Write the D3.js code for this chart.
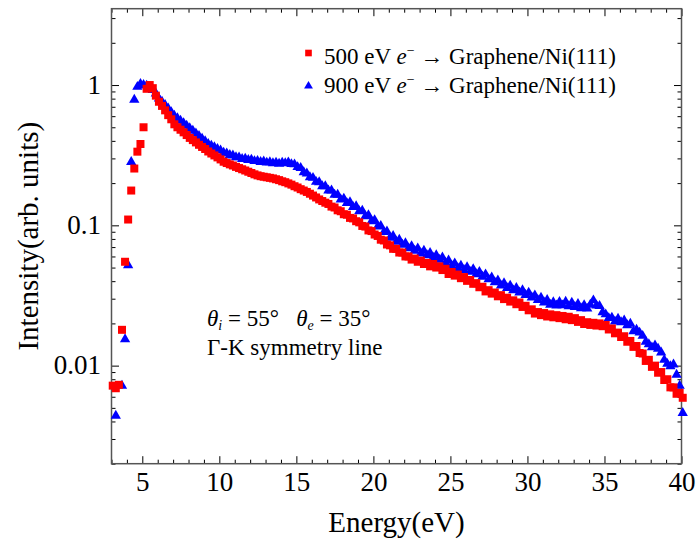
<!DOCTYPE html>
<html>
<head>
<meta charset="utf-8">
<script src="https://cdn.jsdelivr.net/npm/d3@7"></script>
<style>
  html, body { margin: 0; padding: 0; background: #fff; }
  svg { display: block; font-family: "Liberation Serif", "Times New Roman", serif; }
</style>
</head>
<body>
<svg id="chart" width="698" height="540"></svg>
<script>
// ---------------- data ----------------
const energy = [
  3.08,3.28,3.48,3.68,3.88, 4.08,4.28,4.48,4.68,4.88, 5.08,5.28,5.48,5.68,5.88,
  6.08,6.28,6.48,6.68,6.88, 7.08,7.28,7.48,7.68,7.88, 8.08,8.28,8.48,8.68,8.88,
  9.08,9.28,9.48,9.68,9.88, 10.08,10.28,10.48,10.68,10.88, 11.08,11.28,11.48,11.68,11.88,
  12.08,12.28,12.48,12.68,12.88, 13.08,13.28,13.48,13.68,13.88, 14.08,14.28,14.48,14.68,14.88,
  15.08,15.28,15.48,15.68,15.88, 16.08,16.28,16.48,16.68,16.88, 17.08,17.28,17.48,17.68,17.88,
  18.08,18.28,18.48,18.68,18.88, 19.08,19.28,19.48,19.68,19.88, 20.08,20.28,20.48,20.68,20.88,
  21.08,21.28,21.48,21.68,21.88, 22.08,22.28,22.48,22.68,22.88, 23.08,23.28,23.48,23.68,23.88,
  24.08,24.28,24.48,24.68,24.88, 25.08,25.28,25.48,25.68,25.88, 26.08,26.28,26.48,26.68,26.88,
  27.08,27.28,27.48,27.68,27.88, 28.08,28.28,28.48,28.68,28.88, 29.08,29.28,29.48,29.68,29.88,
  30.08,30.28,30.48,30.68,30.88, 31.08,31.28,31.48,31.68,31.88, 32.08,32.28,32.48,32.68,32.88,
  33.08,33.28,33.48,33.68,33.88, 34.08,34.28,34.48,34.68,34.88, 35.08,35.28,35.48,35.68,35.88,
  36.08,36.28,36.48,36.68,36.88, 37.08,37.28,37.48,37.68,37.88, 38.08,38.28,38.48,38.68,38.88,
  39.08,39.28,39.48,39.68,39.88, 40.08
];

// 500 eV e- -> Graphene/Ni(111)  (red squares)
const red500 = [
  0.0072,0.0069,0.0073,0.018,0.055,  0.11,0.177,0.254,0.335,0.38,
  0.50,0.94,1.00,0.95,0.84,          0.76,0.71,0.66,0.61,0.57,
  0.525,0.50,0.48,0.46,0.44,         0.42,0.405,0.39,0.375,0.362,
  0.35,0.336,0.325,0.315,0.305,      0.295,0.284,0.278,0.272,0.267,
  0.261,0.256,0.251,0.246,0.241,     0.236,0.231,0.227,0.224,0.222,
  0.220,0.218,0.216,0.213,0.210,     0.206,0.203,0.199,0.195,0.190,
  0.186,0.181,0.177,0.173,0.168,     0.163,0.158,0.153,0.149,0.145,
  0.142,0.136,0.134,0.128,0.126,     0.120,0.119,0.113,0.112,0.107,
  0.105,0.099,0.098,0.092,0.091,     0.086,0.084,0.079,0.078,0.073,
  0.072,0.068,0.068,0.064,0.064,     0.060,0.060,0.057,0.058,0.055,
  0.056,0.053,0.054,0.051,0.053,     0.050,0.051,0.048,0.049,0.045,
  0.0465,0.0438,0.0446,0.0420,0.0428, 0.0402,0.0408,0.0383,0.0387,0.0362,
  0.0365,0.0338,0.0345,0.0326,0.0332, 0.0312,0.0318,0.0298,0.0305,0.0286,
  0.0292,0.0274,0.0282,0.0262,0.0267, 0.0248,0.0252,0.0235,0.0241,0.0229,
  0.0237,0.0224,0.0232,0.0221,0.0229, 0.0218,0.0226,0.0214,0.0223,0.0211,
  0.0218,0.0205,0.0211,0.0198,0.0204, 0.0195,0.0202,0.0193,0.0200,0.0191,
  0.0195,0.0181,0.0184,0.0170,0.0172, 0.0160,0.0162,0.0148,0.0150,0.0136,
  0.0138,0.0123,0.0122,0.0108,0.0110, 0.0098,0.0100,0.0089,0.0090,0.0079,
  0.0080,0.0070,0.0070,0.0063,0.0064, 0.0059
];

// 900 eV e- -> Graphene/Ni(111)  (blue triangles); null = not shown
const blue900 = [
  null,0.0044,null,0.0072,0.0154,    0.052,0.283,0.786,0.97,1.02,
  1.00,0.99,0.96,0.92,0.87,          0.80,0.76,0.72,0.68,0.64,
  0.605,0.58,0.557,0.535,0.513,      0.492,0.472,0.452,0.433,0.415,
  0.397,0.38,0.37,0.36,0.35,         0.342,0.329,0.326,0.317,0.315,
  0.306,0.305,0.297,0.299,0.292,     0.294,0.287,0.288,0.283,0.285,
  0.280,0.282,0.277,0.280,0.275,     0.280,0.277,0.281,0.273,0.272,
  0.260,0.256,0.239,0.234,0.220,     0.218,0.204,0.203,0.190,0.190,
  0.177,0.177,0.165,0.165,0.153,     0.155,0.144,0.146,0.135,0.137,
  0.126,0.127,0.116,0.118,0.107,     0.109,0.098,0.0990,0.0895,0.0905,
  0.0815,0.0840,0.0765,0.0790,0.0728, 0.0745,0.0685,0.0710,0.0660,0.0685,
  0.0630,0.0660,0.0612,0.0635,0.0588, 0.0612,0.0568,0.0590,0.0542,0.0562,
  0.0516,0.0536,0.0494,0.0515,0.0480, 0.0502,0.0466,0.0486,0.0448,0.0466,
  0.0430,0.0447,0.0412,0.0425,0.0392, 0.0405,0.0372,0.0387,0.0357,0.0372,
  0.0344,0.0358,0.0332,0.0345,0.0319, 0.0331,0.0306,0.0317,0.0293,0.0305,
  0.0282,0.0294,0.0272,0.0283,0.0268, 0.0284,0.0269,0.0285,0.0265,0.0281,
  0.0262,0.0275,0.0256,0.0270,0.0255, 0.0272,0.0292,0.0268,0.0266,0.0240,
  0.0232,0.0218,0.0220,0.0206,0.0216, 0.0204,0.0210,0.0194,0.0199,0.0176,
  0.0180,0.0172,0.0163,0.0148,0.0142, 0.0135,0.0139,0.0132,0.0124,0.0110,
  0.0103,0.0099,0.0102,0.0086,0.0072, 0.0046
];

const xMajorTicks = [5, 10, 15, 20, 25, 30, 35, 40];
const xMinorTicks = [3,4,6,7,8,9,11,12,13,14,16,17,18,19,21,22,23,24,26,27,28,29,31,32,33,34,36,37,38,39];
const yMajorTicks = [0.01, 0.1, 1];
const yTickLabels = ["0.01", "0.1", "1"];
const yMinorTicks = [0.002,0.003,0.004,0.005,0.006,0.007,0.008,0.009,
                     0.02,0.03,0.04,0.05,0.06,0.07,0.08,0.09,
                     0.2,0.3,0.4,0.5,0.6,0.7,0.8,0.9, 2, 3];
const seriesNames = ["500 eV", "900 eV"];
const xTitle = "Energy(eV)";
const yTitle = "Intensity(arb. units)";

// ---------------- layout ----------------
const svg = d3.select("#chart");
const L = 111.5, R = 681.5, T = 8.7, B = 463.7;
const x = d3.scaleLinear().domain([3, 40]).range([L, R]);
const y = d3.scaleLog().domain([0.002, 3.5]).range([B, T]);

const tickColor = "#000";
const majorLen = 7.5, minorLen = 4;
const serif = "'Liberation Serif', 'Times New Roman', serif";

function styleAxis(g) {
  g.select(".domain").remove();
  g.selectAll(".tick line").attr("stroke", tickColor).attr("stroke-width", 1);
}

// bottom
svg.append("g").attr("transform", `translate(0,${B})`)
  .call(d3.axisBottom(x).tickValues(xMajorTicks).tickSize(-majorLen).tickFormat(d3.format("d")))
  .call(styleAxis)
  .call(g => g.selectAll("text").attr("y", 27.5).attr("dy", null)
     .attr("font-size", 27).attr("font-family", serif).attr("fill", "#000"));
svg.append("g").attr("transform", `translate(0,${B})`)
  .call(d3.axisBottom(x).tickValues(xMinorTicks).tickSize(-minorLen).tickFormat(""))
  .call(styleAxis);
// top
svg.append("g").attr("transform", `translate(0,${T})`)
  .call(d3.axisTop(x).tickValues(xMajorTicks).tickSize(-majorLen).tickFormat(""))
  .call(styleAxis);
svg.append("g").attr("transform", `translate(0,${T})`)
  .call(d3.axisTop(x).tickValues(xMinorTicks).tickSize(-minorLen).tickFormat(""))
  .call(styleAxis);
// left
svg.append("g").attr("transform", `translate(${L},0)`)
  .call(d3.axisLeft(y).tickValues(yMajorTicks).tickSize(-majorLen)
     .tickFormat((d, i) => yTickLabels[i]))
  .call(styleAxis)
  .call(g => g.selectAll("text").attr("x", -10.5).attr("dy", "0.3em")
     .attr("font-size", 27).attr("font-family", serif).attr("fill", "#000"));
svg.append("g").attr("transform", `translate(${L},0)`)
  .call(d3.axisLeft(y).tickValues(yMinorTicks).tickSize(-minorLen).tickFormat(""))
  .call(styleAxis);
// right
svg.append("g").attr("transform", `translate(${R},0)`)
  .call(d3.axisRight(y).tickValues(yMajorTicks).tickSize(-majorLen).tickFormat(""))
  .call(styleAxis);
svg.append("g").attr("transform", `translate(${R},0)`)
  .call(d3.axisRight(y).tickValues(yMinorTicks).tickSize(-minorLen).tickFormat(""))
  .call(styleAxis);

// frame
svg.append("rect").attr("x", L).attr("y", T).attr("width", R - L).attr("height", B - T)
  .attr("fill", "none").attr("stroke", "#555").attr("stroke-width", 1.5);

// ---------------- markers ----------------
const sq = d3.symbol().type(d3.symbolSquare).size(64);
const tri = d3.symbol().type(d3.symbolTriangle).size(46);

const blueData = energy.map((e, i) => ({e, v: blue900[i]})).filter(d => d.v != null);
const redData = energy.map((e, i) => ({e, v: red500[i]})).filter(d => d.v != null);

svg.append("g").selectAll("path").data(blueData).join("path")
  .attr("d", tri).attr("fill", "#0000ff")
  .attr("transform", d => `translate(${x(d.e)},${y(d.v)})`);
svg.append("g").selectAll("path").data(redData).join("path")
  .attr("d", sq).attr("fill", "#ff0000")
  .attr("transform", d => `translate(${x(d.e)},${y(d.v)})`);

// ---------------- legend ----------------
const legend = svg.append("g").attr("font-size", 23).attr("font-family", serif).attr("fill", "#000");
const legRows = [
  {name: seriesNames[0], type: d3.symbolSquare, size: 44, color: "#ff0000", y: 63.5, my: 53},
  {name: seriesNames[1], type: d3.symbolTriangle, size: 34, color: "#0000ff", y: 93, my: 86}
];
legRows.forEach(r => {
  legend.append("path").attr("d", d3.symbol().type(r.type).size(r.size)())
    .attr("fill", r.color).attr("transform", `translate(308.5,${r.my})`);
  const t = legend.append("text").attr("x", 324).attr("y", r.y);
  t.append("tspan").text(r.name + " ");
  t.append("tspan").attr("font-style", "italic").text("e");
  t.append("tspan").attr("font-size", 14).attr("dy", -9).text("\u2212");
  t.append("tspan").attr("dy", 9).text(" \u2192 Graphene/Ni(111)");
});

// ---------------- annotation ----------------
const ann = svg.append("g").attr("font-size", 23).attr("font-family", serif).attr("fill", "#000");
const a1 = ann.append("text").attr("x", 207).attr("y", 326);
a1.append("tspan").attr("font-style", "italic").text("\u03B8");
a1.append("tspan").attr("font-style", "italic").attr("font-size", 14).attr("dy", 4).text("i");
a1.append("tspan").attr("dy", -4).text(" = 55\u00B0\u00A0\u00A0\u00A0");
a1.append("tspan").attr("font-style", "italic").text("\u03B8");
a1.append("tspan").attr("font-style", "italic").attr("font-size", 14).attr("dy", 4).text("e");
a1.append("tspan").attr("dy", -4).text(" = 35\u00B0");
ann.append("text").attr("x", 207).attr("y", 355).text("\u0393-K symmetry line");

// ---------------- titles ----------------
svg.append("text").attr("x", (L + R) / 2).attr("y", 532).attr("text-anchor", "middle")
  .attr("font-family", serif).attr("font-size", 29).text(xTitle);
svg.append("text").attr("transform", `translate(38,${(T + B) / 2}) rotate(-90)`)
  .attr("text-anchor", "middle").attr("font-family", serif).attr("font-size", 29).text(yTitle);
</script>
</body>
</html>
